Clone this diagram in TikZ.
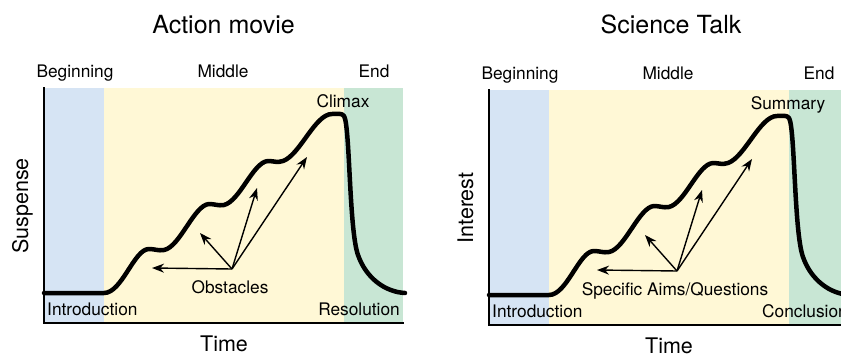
\documentclass[tikz,border=0pt]{standalone}
\usepackage{fontspec}
\setmainfont{TeX Gyre Heros}
\usetikzlibrary{arrows.meta}
\definecolor{begblue}{RGB}{214,228,244}
\definecolor{midyellow}{RGB}{255,248,214}
\definecolor{endgreen}{RGB}{200,230,212}
% #1 prefix, #2 y label, #3 peak label, #4 arrows label, #5 left bottom label, #6 right bottom label, #7 right label anchor, #8 right label x
\newcommand\storypanel[8]{%
  \fill[begblue] (44,88) rectangle (104,323);
  \fill[midyellow] (104,88) rectangle (344,323);
  \fill[endgreen] (344,88) rectangle (403,323);
  \draw[axisline] (44,87) -- (44,323) -- (404,323);
  \draw[story] (44,293) -- (104,293)
   .. controls (122,293) and (134,249) .. (149,249)
   .. controls (155,249) and (158,251) .. (164,250)
   .. controls (180,247) and (194,205) .. (209,204)
   .. controls (215,204) and (218,206) .. (224,205)
   .. controls (240,201) and (253,162) .. (268,161)
   .. controls (274,161) and (277,163) .. (283,161)
   .. controls (300,155) and (315,114) .. (332,114)
   .. controls (338,114) and (342,113) .. (344,116)
   .. controls (350,125) and (349,230) .. (358,255)
   .. controls (366,278) and (385,292) .. (405,293);
  \node[lbl] (#1-beg) at (75,77) {Beginning};
  \node[lbl] (#1-mid) at (223,77) {Middle};
  \node[lbl] (#1-end) at (374,77) {End};
  \node[lbl] (#1-peak) at (343,107) {#3};
  \node[lbl] (#1-obs) at (230,293) {#4};
  \node[lbl, anchor=base west] (#1-intro) at (47,315) {#5};
  \node[lbl, anchor=#7] (#1-res) at (#8,315) {#6};
  \node[axlbl] (#1-time) at (224,351) {Time};
  \node[axlbl, rotate=90] (#1-y) at (28,206) {#2};
  \coordinate (#1-o) at (232,269);
  \coordinate (#1-a) at (152,268);
  \coordinate (#1-b) at (200,233);
  \coordinate (#1-c) at (257,188);
  \coordinate (#1-d) at (307,157);
  \draw[pointer] (#1-o) -- (#1-a);
  \draw[pointer] (#1-o) -- (#1-b);
  \draw[pointer] (#1-o) -- (#1-c);
  \draw[pointer] (#1-o) -- (#1-d);
}
\begin{document}
\begin{tikzpicture}[x=1pt,y=-1pt,
  lbl/.style={font=\fontsize{17.3}{20}\selectfont, inner sep=0pt, anchor=base},
  axlbl/.style={font=\fontsize{21.5}{25}\selectfont, inner sep=0pt, anchor=base},
  ttl/.style={font=\fontsize{25}{30}\selectfont, inner sep=0pt, anchor=base},
  story/.style={line width=4.5pt, line cap=round, line join=round},
  axisline/.style={line width=2.3pt},
  pointer/.style={line width=1.4pt, -{Stealth[length=12pt,width=9pt]}}]
\clip (0,0) rectangle (841,356);
\fill[white] (0,0) rectangle (841,356);
\node[ttl] (title1) at (223.5,33) {Action movie};
\node[ttl] (title2) at (671,33) {Science Talk};
\begin{scope}
\storypanel{L}{Suspense}{Climax}{Obstacles}{Introduction}{Resolution}{base east}{400}
\end{scope}
\begin{scope}[shift={(445,2)}]
\storypanel{R}{Interest}{Summary}{Specific Aims/Questions}{Introduction}{Conclusion}{base west}{317}
\end{scope}
\end{tikzpicture}
\end{document}
